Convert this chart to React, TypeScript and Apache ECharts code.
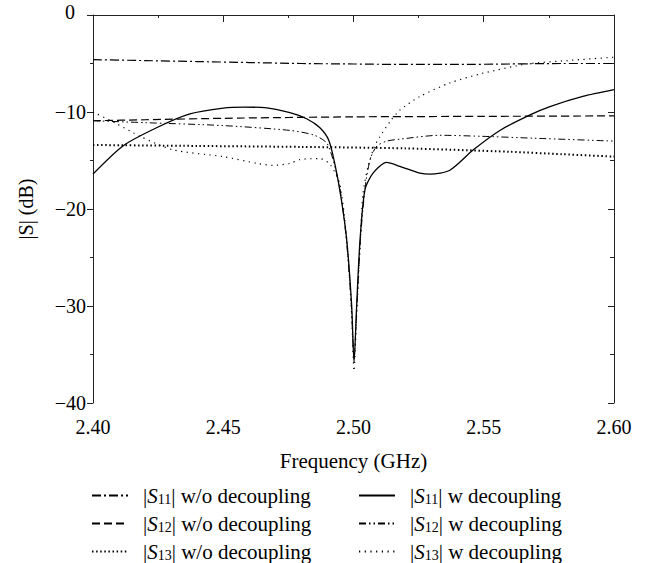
import React, { useEffect, useRef } from "react";
import * as echarts from "echarts";

const FONT = "Liberation Serif";

// x-axis ticks (GHz)
const xTicks = [2.4, 2.45, 2.5, 2.55, 2.6];
// y-axis ticks (dB)
const yTicks = [0, -10, -20, -30, -40];

// |S11| w/o decoupling
const s11WoFreq = [2.4, 2.42, 2.44, 2.46, 2.48, 2.5, 2.52, 2.54, 2.56, 2.58, 2.6];
const s11WoVal = [-4.6, -4.7, -4.8, -4.9, -5.0, -5.05, -5.1, -5.1, -5.05, -5.0, -5.0];

// |S12| w/o decoupling
const s12WoFreq = [2.4, 2.42, 2.45, 2.5, 2.55, 2.6];
const s12WoVal = [-10.9, -10.8, -10.65, -10.5, -10.45, -10.4];

// |S13| w/o decoupling
const s13WoFreq = [2.4, 2.44, 2.48, 2.52, 2.56, 2.58, 2.6];
const s13WoVal = [-13.4, -13.5, -13.6, -13.75, -14.1, -14.35, -14.6];

// |S11| w decoupling
const s11WFreq = [
  2.4, 2.4115, 2.4246, 2.4372, 2.45, 2.458, 2.466, 2.4756, 2.482, 2.487, 2.4905,
  2.4928, 2.4952, 2.4974, 2.4993, 2.5002, 2.5012, 2.5025, 2.5044, 2.5075, 2.5127, 2.5178,
  2.5255, 2.5294, 2.537, 2.546, 2.5562, 2.5678, 2.5754, 2.588, 2.6,
];
const s11WVal = [
  -16.4, -13.5, -11.6, -10.2, -9.6, -9.5, -9.55, -10.07, -10.7, -11.6, -12.9,
  -15.3, -18.8, -23.2, -30.0, -35.8, -30.0, -23.2, -18.0, -16.3, -15.2, -15.6,
  -16.3, -16.4, -16.0, -13.9, -11.9, -10.3, -9.45, -8.4, -7.7,
];

// |S12| w decoupling
const s12WFreq = [
  2.4, 2.42, 2.45, 2.4756, 2.485, 2.49, 2.4945, 2.4972, 2.4992, 2.5002, 2.5013,
  2.5027, 2.5046, 2.5065, 2.509, 2.5128, 2.5178, 2.533, 2.5486, 2.569, 2.6,
];
const s12WVal = [
  -10.9, -11.1, -11.4, -11.9, -12.4, -13.3, -17.5, -23.0, -30.0, -35.5, -30.0,
  -23.0, -17.5, -14.8, -13.5, -13.0, -12.8, -12.4, -12.5, -12.7, -13.0,
];

// |S13| w decoupling
const s13WFreq = [
  2.4, 2.409, 2.418, 2.4307, 2.45, 2.463, 2.469, 2.4756, 2.4795, 2.487, 2.491,
  2.4948, 2.4975, 2.4993, 2.5002, 2.5012, 2.5025, 2.5036, 2.5056, 2.508, 2.51,
  2.514, 2.5178, 2.5255, 2.537, 2.5497, 2.5666, 2.582, 2.6,
];
const s13WVal = [
  -10.0, -11.2, -12.5, -13.9, -14.6, -15.3, -15.5, -15.3, -14.9, -14.8, -15.4,
  -17.5, -23.5, -31.0, -36.7, -31.0, -24.0, -18.5, -15.6, -13.6, -12.6,
  -11.0, -9.8, -8.4, -7.0, -6.0, -5.05, -4.7, -4.35,
];

// legend layout: [series name, column, row]
const legendItems: [string, number, number][] = [
  ["s11wo", 0, 0],
  ["s11w", 1, 0],
  ["s12wo", 0, 1],
  ["s12w", 1, 1],
  ["s13wo", 0, 2],
  ["s13w", 1, 2],
];
const legendLabels: Record<string, string> = {
  s11wo: "{n||}{i|S}{sub|11}{n|| w/o decoupling}",
  s12wo: "{n||}{i|S}{sub|12}{n|| w/o decoupling}",
  s13wo: "{n||}{i|S}{sub|13}{n|| w/o decoupling}",
  s11w: "{n||}{i|S}{sub|11}{n|| w decoupling}",
  s12w: "{n||}{i|S}{sub|12}{n|| w decoupling}",
  s13w: "{n||}{i|S}{sub|13}{n|| w decoupling}",
};

const pairs = (f: number[], v: number[]) => f.map((x, i) => [x, v[i]]);

const LFS = 21;
const richStyle = {
  n: { fontFamily: FONT, fontSize: LFS, color: "#000", lineHeight: 22 },
  i: { fontFamily: FONT, fontSize: LFS, fontStyle: "italic", color: "#000", lineHeight: 22 },
  sub: {
    fontFamily: FONT,
    fontSize: 14,
    color: "#000",
    verticalAlign: "bottom",
    padding: [6, 0, 0, 0],
    lineHeight: 15,
  },
};

export default function App() {
  const ref = useRef<HTMLDivElement>(null);
  useEffect(() => {
    if (!ref.current) return;
    const chart = echarts.init(ref.current, null, { renderer: "svg" });
    const mkSeries = (name: string, data: number[][], lineStyle: any) => ({
      name,
      type: "line",
      data,
      color: "#000",
      showSymbol: false,
      symbol: "none",
      smooth: 0.25,
      lineStyle: { color: "#000", ...lineStyle },
      itemStyle: { color: "#000" },
      z: 3,
    });
    const colLeft = [91, 358];
    const rowTop = [485, 513, 541];
    const legends = legendItems.map(([name, c, r]) => ({
      orient: "horizontal",
      left: colLeft[c],
      top: rowTop[r],
      padding: 0,
      itemWidth: 36,
      itemHeight: 14,
      itemStyle: { opacity: 0 },
      selectedMode: false,
      data: [name],
      textStyle: {
        fontFamily: FONT,
        fontSize: LFS,
        color: "#000",
        padding: [0, 0, 0, 10],
        rich: richStyle,
      },
      formatter: (n: string) => legendLabels[n],
    }));
    chart.setOption({
      animation: false,
      color: ["#000"],
      textStyle: { fontFamily: FONT, color: "#000" },
      grid: { left: 93, right: 38, top: 15, bottom: 160 },
      legend: legends,
      xAxis: [
        {
          type: "value",
          min: xTicks[0],
          max: xTicks[xTicks.length - 1],
          interval: 0.05,
          name: "Frequency (GHz)",
          nameLocation: "middle",
          nameGap: 47,
          nameTextStyle: { fontFamily: FONT, fontSize: 21, color: "#000" },
          axisLine: { lineStyle: { color: "#222", width: 1 } },
          axisTick: { show: true, length: 7, lineStyle: { color: "#222" } },
          minorTick: { show: true, splitNumber: 2, length: 3, lineStyle: { color: "#222" } },
          axisLabel: {
            fontFamily: FONT,
            fontSize: 20,
            color: "#000",
            margin: 14,
            formatter: (v: number) => v.toFixed(2),
          },
          splitLine: { show: false },
        },
        {
          type: "value",
          position: "top",
          min: xTicks[0],
          max: xTicks[xTicks.length - 1],
          interval: 0.05,
          axisLine: { onZero: false, lineStyle: { color: "#222", width: 1 } },
          axisTick: { show: false },
          axisLabel: { show: false },
          splitLine: { show: false },
        },
      ],
      yAxis: [
        {
          type: "value",
          min: yTicks[yTicks.length - 1],
          max: yTicks[0],
          interval: 10,
          name: "|S| (dB)",
          nameLocation: "middle",
          nameGap: 57,
          nameTextStyle: { fontFamily: FONT, fontSize: 20, color: "#000" },
          axisLine: { show: true, lineStyle: { color: "#222", width: 1 } },
          axisTick: { show: true, length: 6, lineStyle: { color: "#222" } },
          minorTick: { show: true, splitNumber: 2, length: 3, lineStyle: { color: "#222" } },
          axisLabel: {
            fontFamily: FONT,
            fontSize: 20,
            color: "#000",
            margin: 7,
            formatter: (v: number) => (v < 0 ? "\u2212" + Math.abs(v) : "{z|0}"),
            rich: {
              z: { fontFamily: FONT, fontSize: 20, color: "#000", padding: [0, 11, 6, 0] },
            },
          },
          splitLine: { show: false },
        },
        {
          type: "value",
          position: "right",
          min: yTicks[yTicks.length - 1],
          max: yTicks[0],
          interval: 10,
          axisLine: { show: true, onZero: false, lineStyle: { color: "#222", width: 1 } },
          axisTick: { show: true, inside: true, length: 6, lineStyle: { color: "#222" } },
          minorTick: { show: true, splitNumber: 2, length: 4, lineStyle: { color: "#222" } },
          axisLabel: { show: false },
          splitLine: { show: false },
        },
      ],
      series: [
        mkSeries("s11wo", pairs(s11WoFreq, s11WoVal), { width: 1.2, type: [9, 3, 2, 3] }),
        mkSeries("s11w", pairs(s11WFreq, s11WVal), { width: 1.3, type: "solid" }),
        mkSeries("s12wo", pairs(s12WoFreq, s12WoVal), { width: 1.2, type: [8, 4] }),
        mkSeries("s12w", pairs(s12WFreq, s12WVal), { width: 1, type: [7, 3, 1.5, 3, 1.5, 3] }),
        mkSeries("s13wo", pairs(s13WoFreq, s13WoVal), { width: 2, type: [1.5, 2.6] }),
        mkSeries("s13w", pairs(s13WFreq, s13WVal), { width: 1.2, type: [1.2, 4.5] }),
      ],
    });
    return () => chart.dispose();
  }, []);
  return (
    <div
      ref={ref}
      style={{ position: "fixed", left: 0, top: 0, width: 652, height: 563, background: "#fff" }}
    />
  );
}
